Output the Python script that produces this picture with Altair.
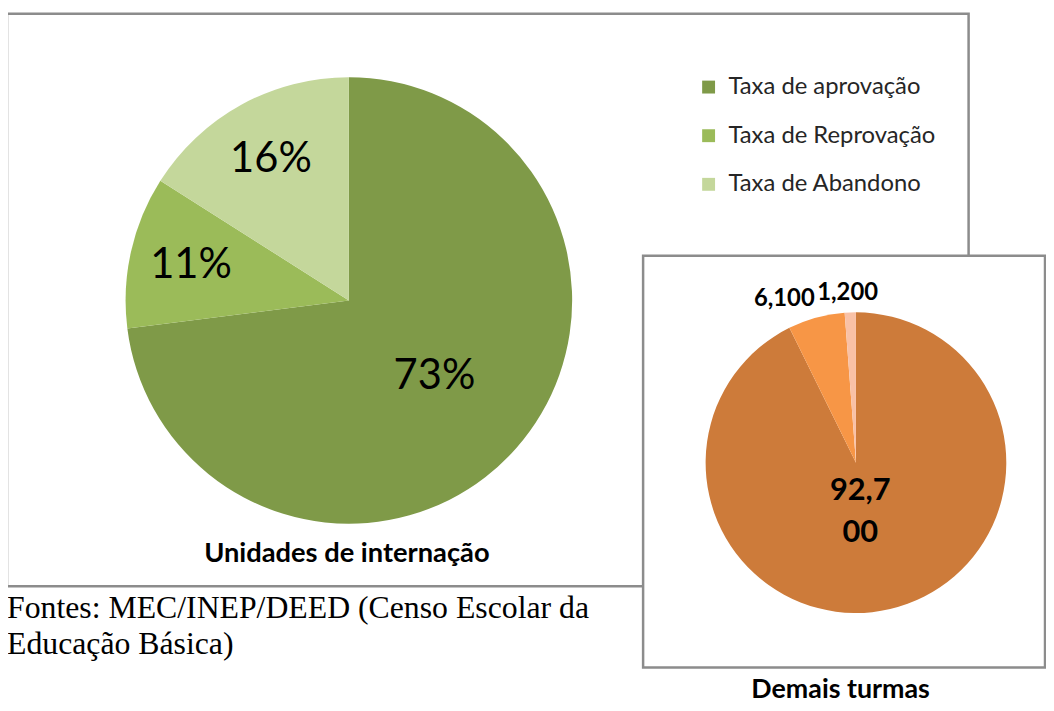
import altair as alt
import pandas as pd

# ---- data ----
left_cats = ["Taxa de aprovação", "Taxa de Reprovação", "Taxa de Abandono"]
left_vals = [73, 11, 16]
left_labels = ["73%", "11%", "16%"]
left_colors = ["#7F9A48", "#9BBB59", "#C4D79B"]

right_cats = ["Aprovação", "Reprovação", "Abandono"]
right_vals = [92.7, 6.1, 1.2]
right_labels = ["92,7\n00", "6,100", "1,200"]
right_colors = ["#CD7B3A", "#F79646", "#F9C1A6"]

left_title = "Unidades de internação"
right_title = "Demais turmas"
source_lines = ["Fontes: MEC/INEP/DEED (Censo Escolar da", "Educação Básica)"]

FONT = "Lato"
dfl = pd.DataFrame({"cat": left_cats, "v": left_vals, "lab": left_labels, "i": range(len(left_cats))})
dfr = pd.DataFrame({"cat": right_cats, "v": right_vals, "lab": right_labels, "i": range(len(right_cats))})
one = pd.DataFrame({"a": [0]})

LCX, LCY, LR = 343.5, 292, 225
RCX, RCY, RR = 854.5, 455.5, 151.5


def box(x, x2, y, y2):
    return alt.Chart(one).mark_rect(fill="white", stroke="#8C8C8C", strokeWidth=2.5).encode(
        x=alt.value(x), x2=alt.value(x2), y=alt.value(y), y2=alt.value(y2)
    )


def label(text, x, y, size, bold=False, font=FONT, align="center", baseline="middle"):
    return alt.Chart(pd.DataFrame({"t": [text]})).mark_text(
        font=font, fontSize=size, fontWeight="bold" if bold else "normal",
        color="black", align=align, baseline=baseline
    ).encode(x=alt.value(x), y=alt.value(y), text="t:N")


box_l = box(-1, 968, 3, 580)
box_r = box(640, 1045, 247, 662)

pie_l = alt.Chart(dfl).mark_arc(outerRadius=LR).encode(
    x=alt.value(LCX), y=alt.value(LCY),
    theta=alt.Theta("v:Q", stack=True),
    order=alt.Order("i:Q"),
    color=alt.Color(
        "cat:N",
        scale=alt.Scale(domain=left_cats, range=left_colors),
        legend=alt.Legend(
            orient="none", legendX=694, legendY=65, title=None,
            symbolType="square", symbolSize=169, symbolStrokeWidth=0,
            labelFont=FONT, labelFontSize=24, labelColor="#262626",
            rowPadding=25, labelOffset=8, padding=0, labelLimit=400,
        ),
    ),
)


def pie_text(df, cx, cy, r, cond, size, bold=False, dx=0, dy=0):
    return alt.Chart(df).mark_text(
        radius=r, font=FONT, fontSize=size, fontWeight="bold" if bold else "normal",
        color="black", lineBreak="\n", dx=dx, dy=dy, lineHeight=size * 1.35
    ).encode(
        x=alt.value(cx), y=alt.value(cy),
        theta=alt.Theta("v:Q", stack=True),
        order=alt.Order("i:Q"),
        text=alt.condition(cond, alt.Text("lab:N"), alt.value("")),
    )


txt_l1 = pie_text(dfl, LCX, LCY, 115, "datum.i == 0", 42)
txt_l2 = pie_text(dfl, LCX, LCY, 163, "datum.i > 0", 42)

pie_r = alt.Chart(dfr).mark_arc(outerRadius=RR).encode(
    x=alt.value(RCX), y=alt.value(RCY),
    theta=alt.Theta("v:Q", stack=True),
    order=alt.Order("i:Q"),
    color=alt.Color("cat:N", scale=alt.Scale(domain=right_cats, range=right_colors), legend=None),
)

txt_r1 = pie_text(dfr, RCX, RCY, 50, "datum.i == 0", 31, bold=True, dx=-7, dy=-20)
txt_r2 = pie_text(dfr, RCX, RCY, 175, "datum.i == 1", 24, bold=True, dx=-26, dy=4)
txt_r3 = pie_text(dfr, RCX, RCY, 170, "datum.i == 2", 24, bold=True, dx=-2, dy=-1)

t_left = label(left_title, LCX - 2, 548, 27.5, bold=True)
t_right = label(right_title, 839, 693, 27, bold=True, baseline="alphabetic")
src1 = label(source_lines[0], -1, 602, 32, font="Liberation Serif", align="left")
src2 = label(source_lines[1], -1, 638, 32, font="Liberation Serif", align="left")

chart = alt.layer(
    box_l, pie_l, txt_l1, txt_l2, t_left, src1, src2,
    box_r, pie_r, txt_r1, txt_r2, txt_r3, t_right,
).resolve_scale(theta="independent", color="independent").properties(
    width=1046, height=695, autosize=alt.AutoSizeParams(type="none"), padding=0,
    background="white",
).configure_view(stroke=None)

chart.save("out.html", embed_options={"renderer": "svg", "actions": False})
